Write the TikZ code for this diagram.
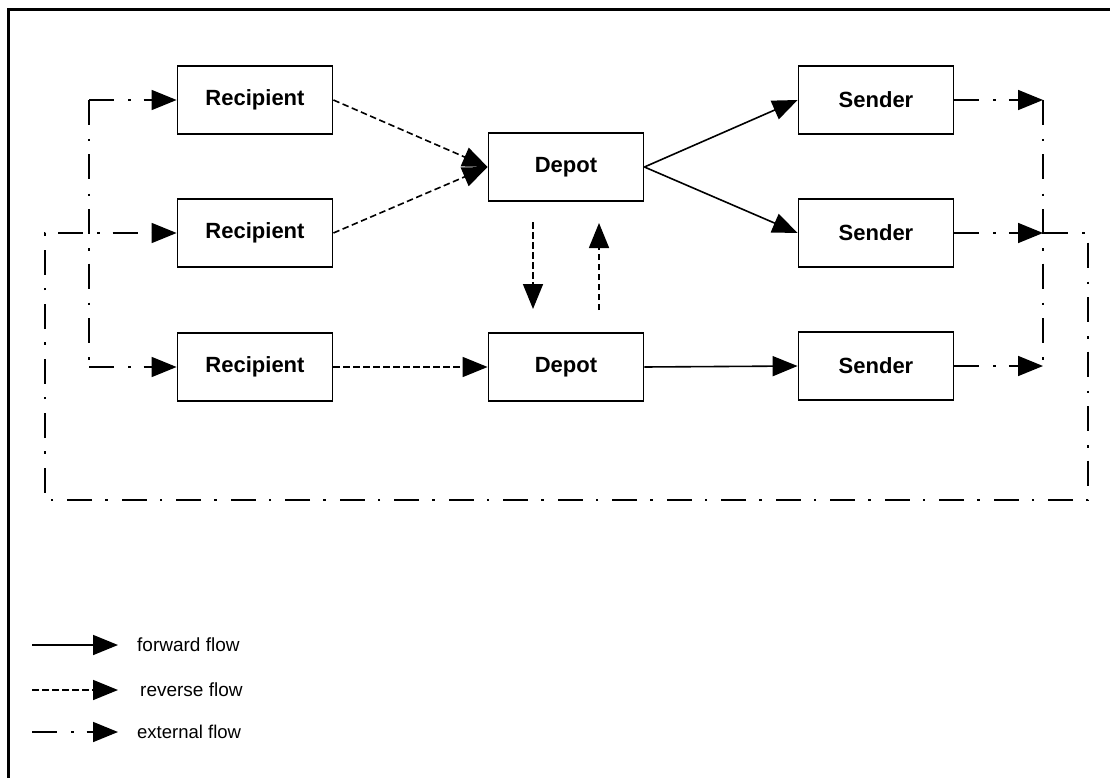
\documentclass[tikz,border=0pt]{standalone}
\usepackage{fontspec}
\setmainfont{Liberation Sans}
\usetikzlibrary{arrows.meta}
\begin{document}
\begin{tikzpicture}[x=1pt,y=-1pt,
 box/.style={draw,line width=1.8pt,minimum width=155pt,minimum height=68pt,inner sep=0pt,font=\fontsize{22}{24}\selectfont\bfseries},
 tip/.style={-{Triangle[length=25pt,width=20pt]}},
 fwd/.style={tip,line width=1.6pt},
 rev/.style={tip,line width=1.6pt,dash pattern=on 6.5pt off 3.5pt},
 ext/.style={line width=1.6pt,dash pattern=on 25pt off 14pt on 2.5pt off 13pt},
 lbl/.style={anchor=west,inner sep=0pt,font=\fontsize{19}{22}\selectfont}]
\useasboundingbox (0,0) rectangle (1110,778);
\draw[line width=3pt] (8.5,778) -- (8.5,9.5) -- (1110,9.5);

% boxes
\node[box] (r1) at (255,100) {Recipient};
\node[box] (r2) at (255,233) {Recipient};
\node[box] (r3) at (255,367) {Recipient};
\node[box] (d1) at (566,167) {Depot};
\node[box] (d2) at (566,367) {Depot};
\node[box] (s1) at (876,100) {Sender};
\node[box] (s2) at (876,233) {Sender};
\node[box] (s3) at (876,366) {Sender};

% helper coordinates
\coordinate (j1) at (1043,100);
\coordinate (j2) at (1043,233);
\coordinate (j3) at (1043,366);
\coordinate (o1) at (1088,233);
\coordinate (o2) at (1088,500);
\coordinate (o3) at (45,500);
\coordinate (o4) at (45,233);
\coordinate (i1) at (89,100);
\coordinate (i3) at (89,367);
\coordinate (a1) at (533,222);
\coordinate (a2) at (533,309);
\coordinate (b1) at (599,310);
\coordinate (b2) at (599,223);

% forward flow
\draw[fwd] (d1.east) -- (s1.west);
\draw[fwd] (d1.east) -- (s2.west);
\draw[fwd] (d2.east) -- (s3.west);

% reverse flow
\draw[rev] (r1.east) -- (d1.west);
\draw[rev] (r2.east) -- (d1.west);
\draw[rev] (r3.east) -- (d2.west);
\draw[rev] (a1) -- (a2);
\draw[rev] (b1) -- (b2);

% external flow
\draw[ext,tip] (s1.east) -- (j1);
\draw[ext,tip] (s2.east) -- (j2);
\draw[ext,tip] (s3.east) -- (j3);
\draw[ext] (j1) -- (j3);
\draw[ext,tip] (j2) -- (o1) -- (o2) -- (o3) -- (o4) -- (r2.west);
\draw[ext] (i1) -- (i3);
\draw[ext,tip] (i1) -- (r1.west);
\draw[ext,tip] (i3) -- (r3.west);

% legend
\coordinate (la1) at (32,645);
\coordinate (lb1) at (118,645);
\coordinate (la2) at (32,690);
\coordinate (lb2) at (118,690);
\coordinate (la3) at (32,732);
\coordinate (lb3) at (118,732);
\draw[fwd] (la1) -- (lb1);
\draw[rev] (la2) -- (lb2);
\draw[ext,tip] (la3) -- (lb3);
\node[lbl] (t1) at (137,645) {forward flow};
\node[lbl] (t2) at (140,690) {reverse flow};
\node[lbl,font=\fontsize{18.5}{22}\selectfont] (t3) at (137,732) {external flow};
\end{tikzpicture}
\end{document}
